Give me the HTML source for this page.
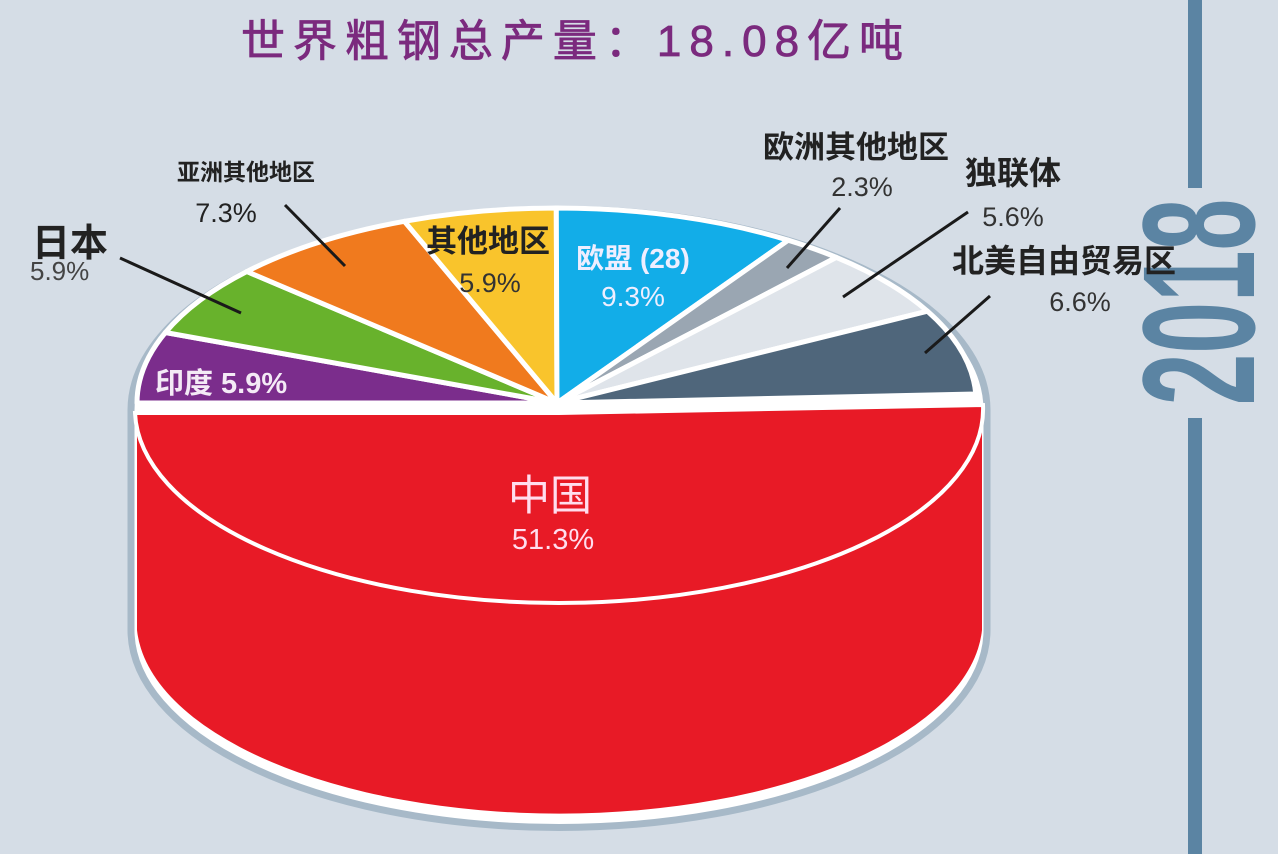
<!DOCTYPE html>
<html><head><meta charset="utf-8"><style>
html,body{margin:0;padding:0;background:#d5dde6;}
body{width:1278px;height:854px;overflow:hidden;position:relative;font-family:"Liberation Sans","Noto Sans CJK SC",sans-serif;}
</style></head><body>
<svg width="1278" height="854" viewBox="0 0 1278 854" xmlns="http://www.w3.org/2000/svg" style="position:absolute;left:0;top:0">
<rect width="1278" height="854" fill="#d5dde6"/>
<rect x="1188" y="0" width="14" height="188" fill="#5b84a3"/>
<rect x="1188" y="418" width="14" height="436" fill="#5b84a3"/>
<text transform="translate(1254,302) rotate(-90) scale(0.58,1)" text-anchor="middle" font-family="Liberation Sans, sans-serif" font-size="160" font-weight="bold" fill="#5b84a3">2018</text>

<path d="M131,410 A426 200 0 0 1 987,410 L987,630 A427 197 0 0 1 131,630 Z" fill="#fff" stroke="#a7b9c8" stroke-width="7"/>
<path d="M137,413 L137,630 A423 193 0 0 0 982,630 L982,413 Z" fill="#e81a26"/>
<path d="M559,413 L983,405 A424 194 0 0 1 135,413 Z" fill="#e81a26" stroke="#fff" stroke-width="4"/>
<g stroke="#fff" stroke-width="5" stroke-linejoin="round">
<path d="M557,403 L137,403 A420 195 0 0 1 165.4,332.5 Z" fill="#7b2d8c"/>
<path d="M557,403 L165.4,332.5 A420 195 0 0 1 246.8,271.5 Z" fill="#68b22c"/>
<path d="M557,403 L246.8,271.5 A420 195 0 0 1 404.4,221.3 Z" fill="#f07a1e"/>
<path d="M557,403 L404.4,221.3 A420 195 0 0 1 556.3,208 Z" fill="#f9c42c"/>
<path d="M557,403 L556.3,208 A420 195 0 0 1 788.2,240.2 Z" fill="#12ade8"/>
<path d="M557,403 L788.2,240.2 A420 195 0 0 1 836.4,257.4 Z" fill="#9aa6b2"/>
<path d="M557,403 L836.4,257.4 A420 195 0 0 1 927.5,311.2 Z" fill="#dfe4ea"/>
<path d="M557,403 L927.5,311.2 A420 195 0 0 1 975.8,394 Z" fill="#4f667b"/>
</g>
<g stroke="#1a1a1a" stroke-width="3">
<line x1="285" y1="205" x2="345" y2="266"/>
<line x1="120" y1="258" x2="241" y2="313"/>
<line x1="840" y1="208" x2="787" y2="268"/>
<line x1="968" y1="212" x2="843" y2="297"/>
<line x1="990" y1="296" x2="925" y2="353"/>
</g>
<g font-family="Liberation Sans, Noto Sans CJK SC, sans-serif">
<text x="576" y="56" text-anchor="middle" font-size="44" fill="#7b2a7e" stroke="#7b2a7e" stroke-width="0.8" letter-spacing="8">世界粗钢总产量：18.08亿吨</text>
<text x="246" y="180" text-anchor="middle" font-size="23" font-weight="bold" fill="#222">亚洲其他地区</text>
<text x="226" y="222" text-anchor="middle" font-size="27" fill="#222">7.3%</text>
<text x="32" y="256" font-size="38" font-weight="bold" fill="#222">日本</text>
<text x="30" y="280" font-size="26" fill="#444">5.9%</text>
<text x="488" y="252" text-anchor="middle" font-size="31" font-weight="bold" fill="#222">其他地区</text>
<text x="490" y="292" text-anchor="middle" font-size="27" fill="#333">5.9%</text>
<text x="633" y="268" text-anchor="middle" font-size="28" font-weight="bold" fill="#eef">欧盟 (28)</text>
<text x="633" y="306" text-anchor="middle" font-size="28" fill="#eef">9.3%</text>
<text x="856" y="158" text-anchor="middle" font-size="31" font-weight="bold" fill="#222">欧洲其他地区</text>
<text x="862" y="196" text-anchor="middle" font-size="27" fill="#333">2.3%</text>
<text x="1013" y="184" text-anchor="middle" font-size="32" font-weight="bold" fill="#222">独联体</text>
<text x="1013" y="226" text-anchor="middle" font-size="27" fill="#333">5.6%</text>
<text x="1064" y="272" text-anchor="middle" font-size="32" font-weight="bold" fill="#222">北美自由贸易区</text>
<text x="1080" y="311" text-anchor="middle" font-size="27" fill="#333">6.6%</text>
<text x="155" y="393" font-size="29" font-weight="bold" fill="#f4eaf6">印度 5.9%</text>
<text x="550" y="510" text-anchor="middle" font-size="42" fill="#fde">中国</text>
<text x="553" y="549" text-anchor="middle" font-size="29" fill="#fde">51.3%</text>
</g>
</svg>
</body></html>
